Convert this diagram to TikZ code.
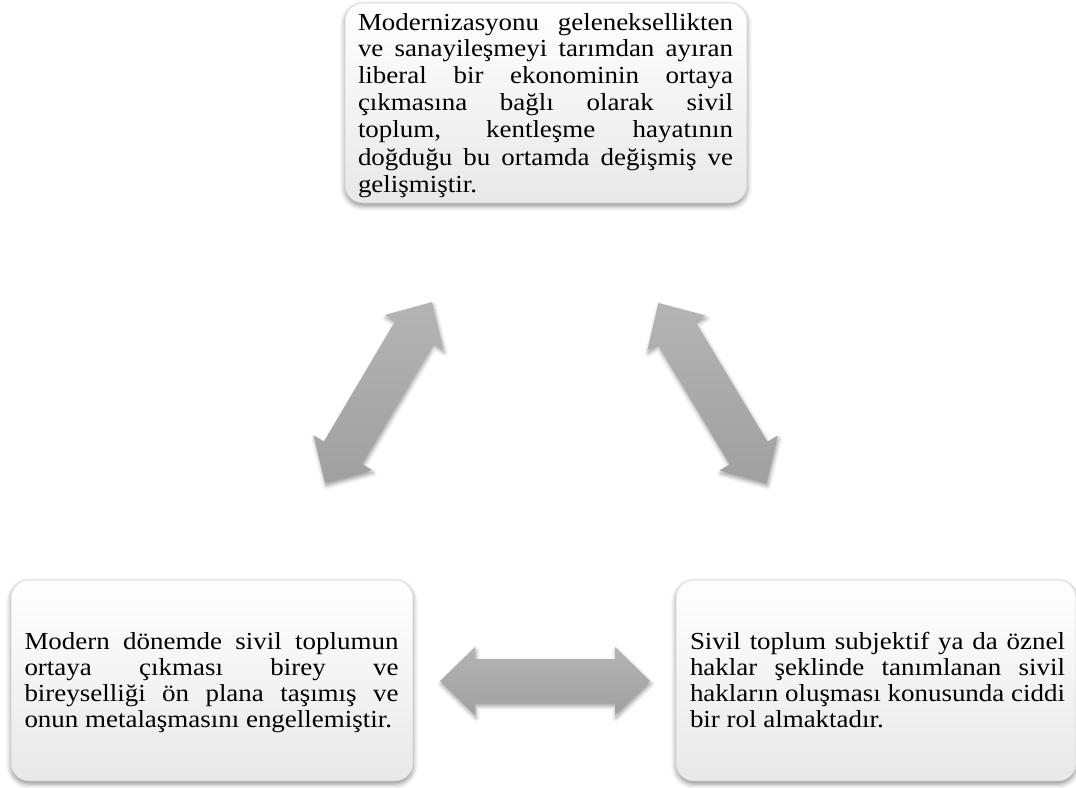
\documentclass[tikz,border=0pt]{standalone}
\usepackage{fontspec}
\setmainfont[FakeStretch=1.10]{Liberation Serif}
\usetikzlibrary{shadows.blur}

\definecolor{cardtop}{HTML}{FFFFFF}
\definecolor{cardbottom}{HTML}{E8E8E8}
\definecolor{cardedge}{HTML}{D4D4D4}
\definecolor{arrowtop}{HTML}{B4B4B4}
\definecolor{arrowbottom}{HTML}{A0A0A0}

% paragraph settings for the panel texts: no hyphenation, loose lines allowed
\newcommand\cardpar{\tolerance=10000 \hbadness=10000 \hyphenpenalty=10000 \exhyphenpenalty=10000 \relax}

\tikzset{
  % rounded text panels with a soft drop shadow
  card/.style={draw=cardedge, line width=0.6pt, rounded corners=18pt,
    top color=cardtop, bottom color=cardbottom, inner sep=0pt,
    blur shadow={shadow xshift=0pt, shadow yshift=-3pt,
      shadow blur radius=5pt, shadow opacity=45}},
  % justified paragraph inside a panel
  cardtext/.style={inner sep=0pt, anchor=north, text width=375pt, align=justify,
    font=\fontsize{24.5pt}{26pt}\selectfont},
  % grey two-headed block arrow
  linkarrow/.style={draw=none, top color=arrowtop, bottom color=arrowbottom,
    blur shadow={shadow xshift=1pt, shadow yshift=-3pt,
      shadow blur radius=4pt, shadow opacity=40}},
}

% two-headed block arrow: length 210, shaft 44, head 68 wide and 35 long
\newcommand\blockarrow[2]{%
  \begin{scope}[shift={#1}, rotate=#2]
    \path[linkarrow] (-105,0) -- (-70,34) -- (-70,22) -- (70,22) -- (70,34)
      -- (105,0) -- (70,-34) -- (70,-22) -- (-70,-22) -- (-70,-34) -- cycle;
  \end{scope}}

\begin{document}
\begin{tikzpicture}[x=1pt,y=-1pt]
\useasboundingbox (0,0) rectangle (1076,787);

% panels
\node[card, minimum width=402pt, minimum height=200pt] (top)   at (546,103)   {};
\node[card, minimum width=402pt, minimum height=201pt] (left)  at (212,680.5) {};
\node[card, minimum width=400pt, minimum height=201pt] (right) at (876,680.5) {};

% panel texts
\node[cardtext, font=\fontsize{24.5pt}{27pt}\selectfont] (topText) at (545.5,12.8)
{\cardpar Modernizasyonu geleneksellikten\linebreak
ve sanayileşmeyi tarımdan ayıran\linebreak
liberal bir ekonominin ortaya\linebreak
çıkmasına bağlı olarak sivil\linebreak
toplum, kentleşme hayatının\linebreak
doğduğu bu ortamda değişmiş ve\linebreak
gelişmiştir.};

\node[cardtext, text width=374pt] (leftText) at (211.5,632.3)
{\cardpar Modern dönemde sivil toplumun\linebreak
ortaya çıkması birey ve\linebreak
bireyselliği ön plana taşımış ve\linebreak
onun metalaşmasını engellemiştir.};

\node[cardtext] (rightText) at (877.5,632.3)
{\cardpar Sivil toplum subjektif ya da öznel\linebreak
haklar şeklinde tanımlanan sivil\linebreak
hakların oluşması konusunda ciddi\linebreak
bir rol almaktadır.};

% two-headed arrows between the panels
\blockarrow{(378.5,392.5)}{59.4}
\blockarrow{(712.5,393)}{-59}
\blockarrow{(545,681)}{0}
\end{tikzpicture}
\end{document}
